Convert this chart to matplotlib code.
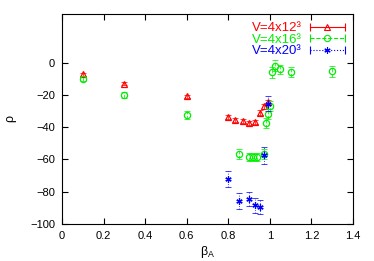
import matplotlib
matplotlib.use("Agg")
import matplotlib.pyplot as plt
from matplotlib.lines import Line2D
from matplotlib.legend_handler import HandlerLine2D

plt.rcParams["font.family"] = ["Liberation Sans", "DejaVu Sans"]
plt.rcParams["mathtext.fontset"] = "custom"
plt.rcParams["mathtext.rm"] = "Liberation Sans"
plt.rcParams["mathtext.it"] = "Liberation Sans"
plt.rcParams["mathtext.sf"] = "Liberation Sans"

# V = 4x12^3
beta_12 = [0.10, 0.30, 0.60, 0.80, 0.83, 0.87, 0.90, 0.93, 0.95, 0.97, 0.99]
rho_12 = [-7.2, -13.0, -21.0, -34.0, -35.6, -36.0, -37.2, -36.6, -31.0, -27.0, -24.5]
err_12 = [1.0, 1.0, 1.0, 1.2, 1.2, 1.2, 1.2, 1.2, 1.5, 1.5, 1.5]

# V = 4x16^3
beta_16 = [0.10, 0.30, 0.60, 0.85, 0.90, 0.92, 0.94, 0.97,
           0.98, 0.99, 1.00, 1.01, 1.025, 1.05, 1.10, 1.30]
rho_16 = [-10.0, -20.0, -32.5, -56.8, -58.8, -58.6, -58.6, -56.8,
          -37.5, -31.7, -27.0, -6.0, -2.0, -4.3, -6.0, -5.4]
err_16 = [1.5, 2.0, 2.5, 3.0, 2.5, 2.5, 2.5, 3.0,
          3.0, 3.0, 3.0, 3.5, 3.5, 3.0, 3.0, 3.5]

# V = 4x20^3
beta_20 = [0.80, 0.85, 0.90, 0.93, 0.95, 0.97, 0.99]
rho_20 = [-72.4, -85.6, -84.6, -88.5, -89.5, -57.6, -25.5]
err_20 = [5.0, 5.0, 4.5, 4.5, 4.5, 5.0, 4.5]

labels = ["V=4x12³", "V=4x16³", "V=4x20³"]
colors = ["#ff0000", "#00ee00", "#0000ff"]
styles = ["-", "--", ":"]
markers = ["^", "o", (6, 2, 0)]

fig = plt.figure(figsize=(3.74, 2.61), dpi=100)
ax = fig.add_axes([0.166, 0.142, 0.778, 0.804])

series = [(beta_12, rho_12, err_12), (beta_16, rho_16, err_16), (beta_20, rho_20, err_20)]
for (x, y, e), c, ls, m in zip(series, colors, styles, markers):
    eb = ax.errorbar(x, y, yerr=e, fmt="none", ecolor=c, elinewidth=0.7,
                     capsize=2, capthick=0.7, alpha=0.75)
    eb[2][0].set_linestyle(ls)
    ax.plot(x, y, linestyle="none", marker=m, markersize=4.5,
            markerfacecolor="none", markeredgecolor=c, markeredgewidth=0.9)

# legend entries: line with end caps and a marker in the middle
handles = []
hmap = {}
for c, ls, m in zip(colors, styles, markers):
    cap = Line2D([], [], color=c, linestyle=ls, linewidth=0.8, marker="|",
                 markersize=6, markeredgewidth=0.8)
    mk = Line2D([], [], color=c, linestyle="none", marker=m, markersize=4.5,
                markerfacecolor="none", markeredgewidth=0.8)
    handles.append((cap, mk))
    hmap[cap] = HandlerLine2D(numpoints=2, marker_pad=0)

leg = ax.legend(handles, labels, handler_map=hmap, loc="upper right",
                frameon=False, markerfirst=False, numpoints=1, fontsize=9.5,
                handlelength=2.7, handletextpad=0.6, labelspacing=-0.05,
                borderaxespad=0.2, labelcolor=colors)

ax.set_xlim(0, 1.4)
ax.set_ylim(-100, 30)
ax.set_xticks([0, 0.2, 0.4, 0.6, 0.8, 1.0, 1.2, 1.4])
ax.set_xticklabels(["0", "0.2", "0.4", "0.6", "0.8", "1", "1.2", "1.4"])
ax.set_yticks([-100, -80, -60, -40, -20, 0])
ax.tick_params(direction="in", top=True, right=True, length=4, width=0.8,
               labelsize=8, pad=5)
for s in ax.spines.values():
    s.set_linewidth(0.8)

ax.set_xlabel(r"$\beta_A$", fontsize=9, labelpad=2)
ax.set_ylabel(r"$\rho$", fontsize=9, labelpad=8)

fig.savefig("out.png", dpi=100)
